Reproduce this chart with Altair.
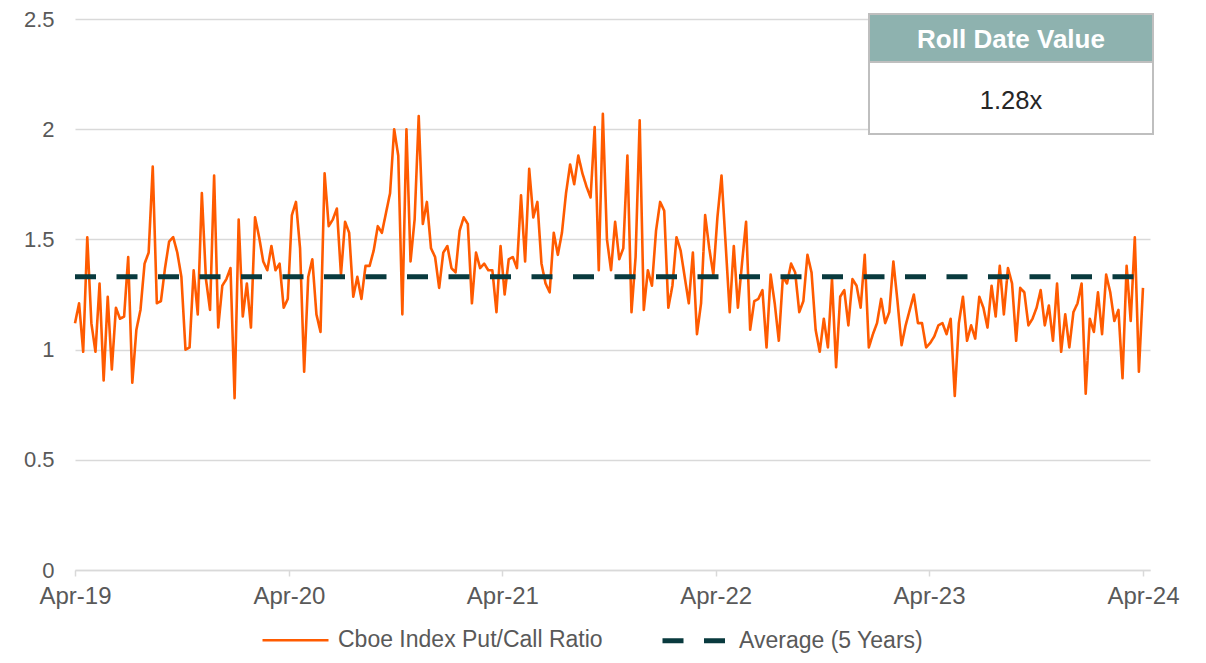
import altair as alt
import pandas as pd

# ---------------- data ----------------
START_DATE = "2019-04-05"
FREQ = "7D"  # weekly observations

PUT_CALL = [
    1.12, 1.21, 0.99, 1.51, 1.12, 0.99, 1.30, 0.86, 1.24, 0.91, 1.19, 1.14, 1.15, 1.42,
    0.85, 1.09, 1.18, 1.39, 1.44, 1.83, 1.21, 1.22, 1.37, 1.49, 1.51, 1.44, 1.33, 1.00,
    1.01, 1.36, 1.16, 1.71, 1.32, 1.18, 1.79, 1.10, 1.29, 1.32, 1.37, 0.78, 1.59,
    1.15, 1.30, 1.10, 1.60, 1.51, 1.40, 1.36, 1.47, 1.36, 1.39, 1.19, 1.23, 1.61, 1.67,
    1.46, 0.90, 1.33, 1.41, 1.16, 1.08, 1.80, 1.56, 1.59, 1.64, 1.34, 1.58, 1.53, 1.24,
    1.33, 1.23, 1.38, 1.38, 1.45, 1.56, 1.53, 1.62, 1.71, 2.00, 1.88, 1.16, 2.00, 1.40,
    1.59, 2.06,
    1.57, 1.67, 1.46, 1.42, 1.28, 1.44, 1.47, 1.37, 1.35, 1.54, 1.60, 1.57, 1.21, 1.44,
    1.37, 1.39, 1.36, 1.36, 1.17, 1.47, 1.25, 1.41, 1.42, 1.37, 1.70, 1.40, 1.82, 1.60,
    1.67, 1.39, 1.30, 1.26, 1.53, 1.43, 1.53, 1.71, 1.84, 1.75, 1.88, 1.80, 1.74, 1.69,
    2.01, 1.36, 2.07,
    1.50, 1.36, 1.58, 1.41, 1.46, 1.88, 1.17, 1.42, 2.04, 1.18, 1.36, 1.29, 1.54, 1.67,
    1.63, 1.19, 1.29, 1.51, 1.45, 1.33, 1.21, 1.44, 1.07, 1.21, 1.61, 1.46, 1.34, 1.60,
    1.79, 1.48, 1.17, 1.47, 1.19, 1.39, 1.58, 1.09, 1.22, 1.23, 1.27, 1.01, 1.34, 1.21,
    1.04,
    1.33, 1.30, 1.39, 1.35, 1.17, 1.22, 1.43, 1.35, 1.09, 0.99, 1.14, 1.01, 1.32, 0.92,
    1.24, 1.27, 1.11, 1.32, 1.29, 1.19, 1.43, 1.01, 1.07, 1.12, 1.23, 1.12, 1.17, 1.40,
    1.22, 1.02, 1.11, 1.18, 1.25, 1.12, 1.12, 1.01, 1.03, 1.06, 1.11, 1.12, 1.07, 1.14,
    0.79, 1.12,
    1.24, 1.04, 1.11, 1.05, 1.24, 1.19, 1.10, 1.29, 1.15, 1.38, 1.16, 1.37, 1.30, 1.04,
    1.28, 1.26, 1.11, 1.14, 1.19, 1.27, 1.11, 1.20, 1.04, 1.30, 0.99, 1.16, 1.01, 1.17,
    1.21, 1.30, 0.80, 1.14, 1.08, 1.26, 1.07, 1.34, 1.26, 1.13, 1.18, 0.87, 1.38, 1.13,
    1.51, 0.90, 1.28,
]
AVERAGE_5Y = 1.33

SERIES = ["Cboe Index Put/Call Ratio", "Average (5 Years)"]
Y_TICKS = [0, 0.5, 1, 1.5, 2, 2.5]
X_TICK_YEARS = [2019, 2020, 2021, 2022, 2023, 2024]

BOX_TITLE = "Roll Date Value"
BOX_VALUE = f"{PUT_CALL[-1]:.2f}x"

# ---------------- tables ----------------
dates = pd.date_range(START_DATE, periods=len(PUT_CALL), freq=FREQ)
ratio_df = pd.DataFrame({"date": dates, "value": PUT_CALL, "series": SERIES[0]})
avg_df = pd.DataFrame({"date": [dates[0], dates[-1]],
                       "value": [AVERAGE_5Y, AVERAGE_5Y], "series": SERIES[1]})
lines_df = pd.concat([ratio_df, avg_df], ignore_index=True)

FONT = "Liberation Sans, Arial, sans-serif"
GREY_TXT = "#595959"
GRID = "#D9D9D9"
ORANGE = "#FF5B00"
DARK = "#093A3E"

x_enc = alt.X(
    "date:T",
    scale=alt.Scale(domain=[alt.DateTime(year=2019, month=4, date=5),
                            alt.DateTime(year=2024, month=4, date=17)], nice=False),
    axis=alt.Axis(
        title=None, format="%b-%y", grid=False,
        values=[alt.DateTime(year=y, month=4, date=5) for y in X_TICK_YEARS],
        labelFont=FONT, labelFontSize=24, labelColor=GREY_TXT, labelPadding=8,
        labelAlign="center", labelBound=False, labelOverlap=False, labelFlush=False,
        domainColor=GRID, domainWidth=1.5, tickColor=GRID, tickWidth=1.5, tickSize=6,
    ),
)
y_enc = alt.Y(
    "value:Q",
    scale=alt.Scale(domain=[0, 2.5], nice=False),
    axis=alt.Axis(
        title=None, values=Y_TICKS, format="~g", domain=False, ticks=False,
        labelFont=FONT, labelFontSize=22, labelColor=GREY_TXT, labelPadding=21,
        gridColor=GRID, gridWidth=1.5,
    ),
)

legend = alt.Legend(
    title=None, orient="none", direction="horizontal", legendX=186, legendY=586,
    symbolType="stroke", symbolSize=4356, labelFont=FONT, labelFontSize=23,
    labelColor=GREY_TXT, labelLimit=400, labelOffset=8, columnPadding=49, padding=0,
)

lines = alt.Chart(lines_df).mark_line(strokeJoin="round").encode(
    x=x_enc,
    y=y_enc,
    color=alt.Color("series:N", scale=alt.Scale(domain=SERIES, range=[ORANGE, DARK]), legend=legend),
    strokeDash=alt.StrokeDash("series:N", scale=alt.Scale(domain=SERIES, range=[[1, 0], [21, 20.5]]), legend=legend),
    strokeWidth=alt.StrokeWidth("series:N", scale=alt.Scale(domain=SERIES, range=[2.6, 5]), legend=legend),
    detail="series:N",
)

box_df = pd.DataFrame({"title": [BOX_TITLE], "value": [BOX_VALUE]})
BX1, BX2 = 794, 1078
header = alt.Chart(box_df).mark_rect(fill="#8EB2AF", stroke="#BFBFBF", strokeWidth=2).encode(
    x=alt.value(BX1), x2=alt.value(BX2), y=alt.value(-5), y2=alt.value(43))
body = alt.Chart(box_df).mark_rect(fill="white", stroke="#BFBFBF", strokeWidth=2).encode(
    x=alt.value(BX1), x2=alt.value(BX2), y=alt.value(43), y2=alt.value(115))
header_txt = alt.Chart(box_df).mark_text(
    font=FONT, fontSize=26, fontWeight="bold", color="white", align="center", baseline="middle"
).encode(x=alt.value((BX1 + BX2) / 2), y=alt.value(21), text="title:N")
body_txt = alt.Chart(box_df).mark_text(
    font=FONT, fontSize=25.5, color="#262626", align="center", baseline="middle"
).encode(x=alt.value((BX1 + BX2) / 2), y=alt.value(82), text="value:N")

chart = (
    alt.layer(lines, body, header, header_txt, body_txt)
    .properties(width=1075, height=551,
                autosize=alt.AutoSizeParams(type="none"),
                padding={"left": 67, "top": 11, "right": 40, "bottom": 85})
    .configure_view(stroke=None)
)

chart.save("out.html", embed_options={"renderer": "svg", "actions": False})
